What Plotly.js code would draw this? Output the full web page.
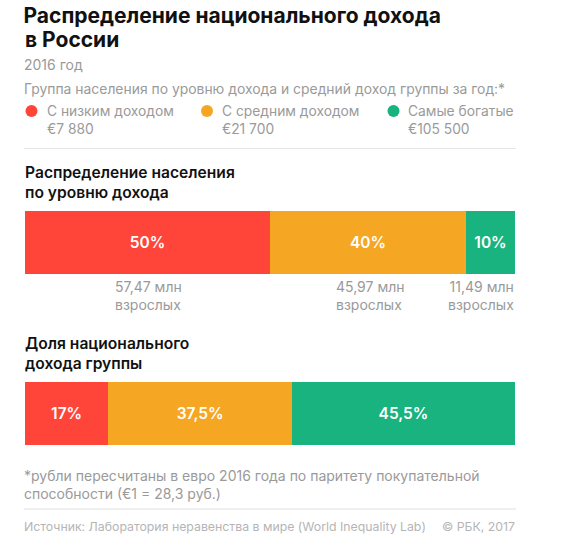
<!DOCTYPE html>
<html><head><meta charset="utf-8">
<script src="https://cdn.plot.ly/plotly-3.0.1.min.js"></script>
<style>html,body{margin:0;padding:0;background:#fff}</style></head>
<body><div id="chart" style="width:572px;height:546px"></div>
<script>
const groups = ['С низким доходом','С средним доходом','Самые богатые'];
const avgIncome = ['€7 880','€21 700','€105 500'];
const populationShare = [50,40,10];
const populationLabels = ['50%','40%','10%'];
const incomeShare = [17,37.5,45.5];
const incomeLabels = ['17%','37,5%','45,5%'];
const adults = ['57,47 млн<br>взрослых','45,97 млн<br>взрослых','11,49 млн<br>взрослых'];
const colors = ['#FF453A','#F5A623','#18B37E'];

const W=572,H=546,FONT='Inter, "Noto Sans", sans-serif';
const px=x=>x/W, py=y=>1-y/H;
const traces=[];
const barFont={color:'#fff',size:15.5,family:FONT,weight:600};
groups.forEach((g,i)=>{
  traces.push({type:'bar',orientation:'h',name:g,y:['Население'],x:[populationShare[i]],xaxis:'x',yaxis:'y',
    marker:{color:colors[i],line:{width:0}},text:[populationLabels[i]],textposition:'inside',insidetextanchor:'middle',
    constraintext:'none',textangle:0,textfont:barFont,hoverinfo:'name+x'});
  traces.push({type:'bar',orientation:'h',name:g,y:['Доход'],x:[incomeShare[i]],xaxis:'x2',yaxis:'y2',
    marker:{color:colors[i],line:{width:0}},text:[incomeLabels[i]],textposition:'inside',insidetextanchor:'middle',
    constraintext:'none',textangle:0,textfont:barFont,hoverinfo:'name+x'});
});
const note=(x,y,text,size,color,opt={})=>Object.assign({xref:'paper',yref:'paper',x:px(x),y:py(y),text,showarrow:false,
  xanchor:'left',yanchor:'top',align:'left',borderpad:0,font:{family:FONT,size,color}},opt);
const GREY='#9a9a9a',LG='#b5b5b5',BLK='#111';
const HEAD={font:{family:FONT,size:15.6,color:BLK,weight:600}};
const legendX=[46,221,407], dotX=[31.5,207,393.5];
const annotations=[
  note(23.5,26,'<b>в России</b>',21,BLK),
  note(23,55,'2016 год',14,GREY),
  note(23,80,'Группа населения по уровню дохода и средний доход группы за год:*',13.9,GREY),
  note(23.5,162,'Распределение населения<br>по уровню дохода',15.6,BLK,HEAD),
  note(23.5,333,'Доля национального<br>дохода группы',15.6,BLK,HEAD),
  note(114,277,adults[0],14,GREY),
  note(335,277,adults[1],14,GREY),
  note(515,277,adults[2],14,GREY,{xanchor:'right',align:'right'}),
  note(23,466,'*рубли пересчитаны в евро 2016 года по паритету покупательной<br>способности (€1 = 28,3 руб.)',14,GREY),
  note(23,518,'Источник: Лаборатория неравенства в мире (World Inequality Lab)',12.3,LG),
  note(516,518,'© РБК, 2017',12.3,LG,{xanchor:'right',align:'right'})
];
groups.forEach((g,i)=>annotations.push(note(legendX[i],102,g+'<br>'+avgIncome[i],13.8,GREY)));
const shapes=[
  {type:'line',xref:'paper',yref:'paper',x0:px(24),x1:px(516),y0:py(148.5),y1:py(148.5),line:{color:'#e6e6e6',width:1}},
  {type:'line',xref:'paper',yref:'paper',x0:px(24),x1:px(516),y0:py(509),y1:py(509),line:{color:'#e0e0e0',width:1}}
];
dotX.forEach((x,i)=>shapes.push({type:'circle',xref:'paper',yref:'paper',x0:px(x-6),x1:px(x+6),y0:py(111+6),y1:py(111-6),
  fillcolor:colors[i],line:{width:0}}));
const hidden={showgrid:false,zeroline:false,showticklabels:false,ticks:'',showline:false,fixedrange:true};
const layout={width:W,height:H,margin:{l:0,r:0,t:0,b:0},paper_bgcolor:'#fff',plot_bgcolor:'#fff',barmode:'stack',showlegend:false,
  title:{text:'<b>Распределение национального дохода</b>',x:px(23.5),xanchor:'left',y:py(8),yanchor:'top',
    font:{family:FONT,size:21,color:BLK}},
  xaxis:Object.assign({},hidden,{domain:[px(25),px(515)],range:[0,100]}),
  yaxis:Object.assign({},hidden,{domain:[py(274),py(211)],type:'category',range:[-0.5,0.5]}),
  xaxis2:Object.assign({},hidden,{domain:[px(25),px(515)],range:[0,100],anchor:'y2'}),
  yaxis2:Object.assign({},hidden,{domain:[py(445),py(382)],type:'category',range:[-0.5,0.5],anchor:'x2'}),
  bargap:0,annotations,shapes};
Plotly.newPlot('chart',traces,layout,{displayModeBar:false,staticPlot:true});
</script></body></html>
